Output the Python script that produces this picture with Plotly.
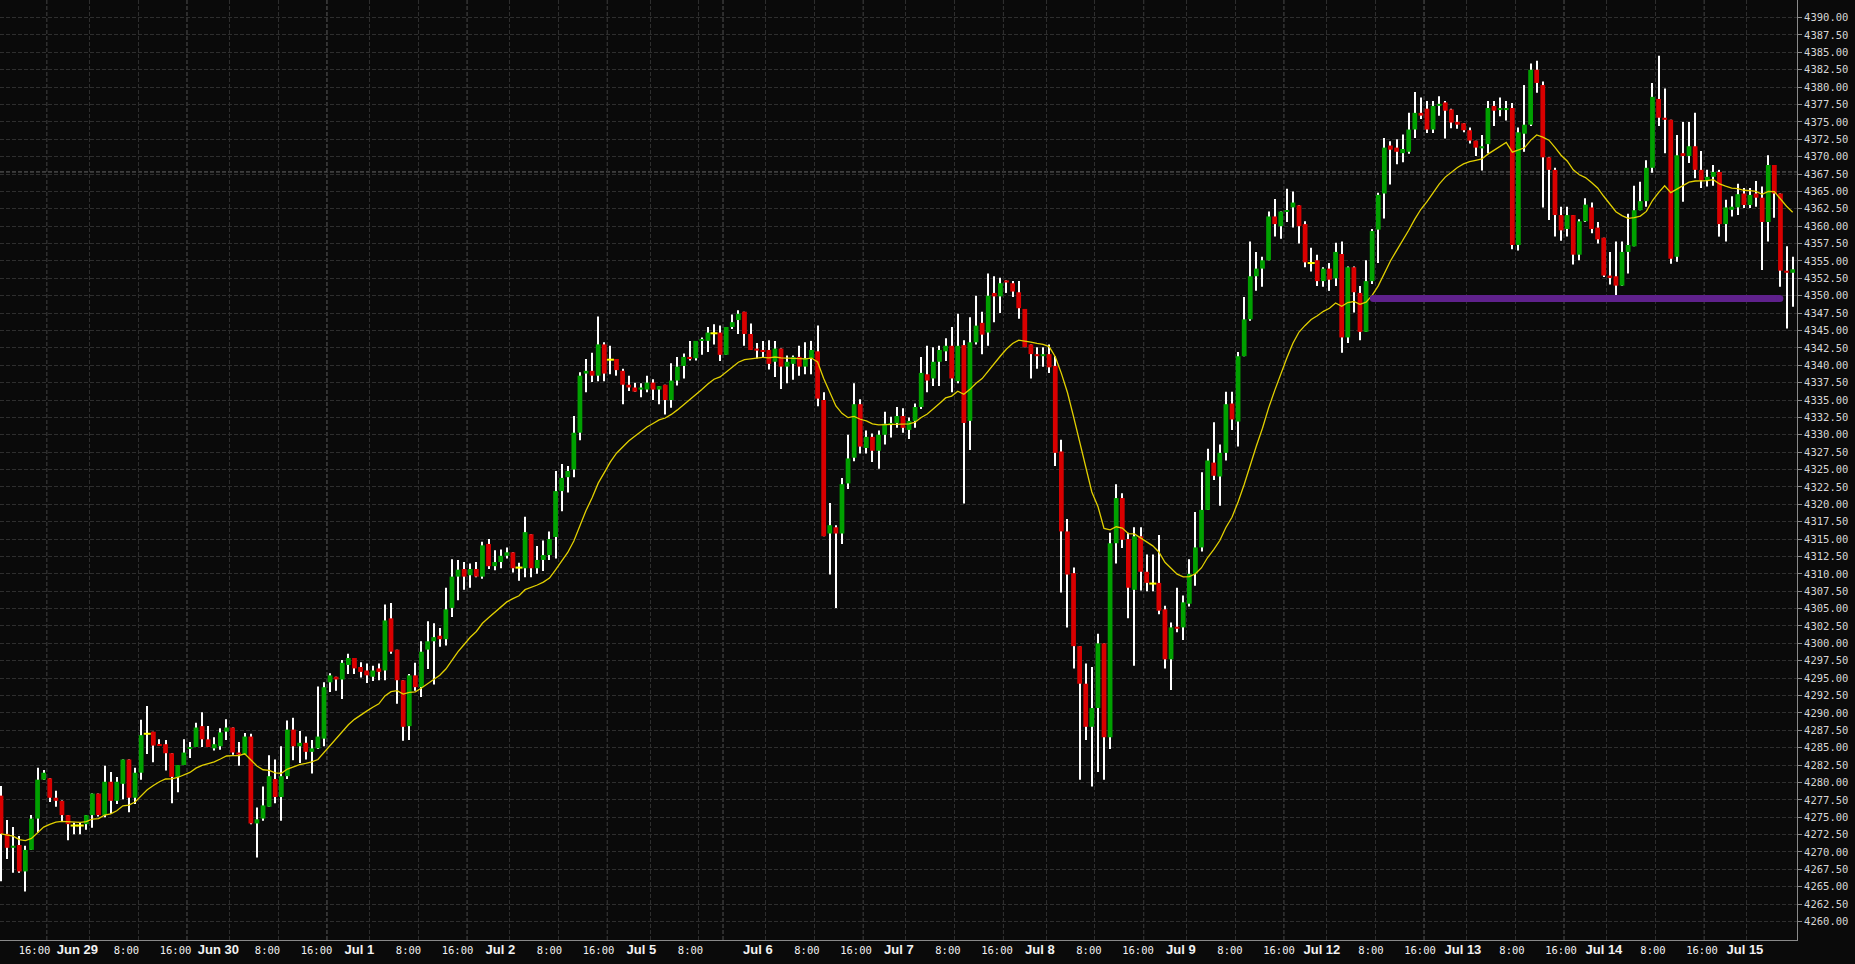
import plotly.graph_objects as go
from datetime import datetime, timedelta

# ---------------- data (hourly candles) ----------------
opens = [
 4278.1,4272.6,4270.6,4271.0,4267.2,4270.3,4274.8,4280.4,4280.6,4277.8,
 4277.35,4275.3,4273.8,4273.8,4274.0,4275.3,4278.4,4275.3,4280.1,4277.35,
 4279.8,4283.3,4277.8,4281.4,4287.0,4287.3,4285.5,4285.5,4284.2,4280.8,
 4282.5,4284.9,4285.1,4288.1,4286.2,4284.9,4285.2,4287.3,4287.9,4284.3,
 4284.0,4286.6,4274.1,4274.8,4276.5,4280.5,4277.9,4280.9,4287.6,4285.2,
 4285.7,4284.4,4284.9,4286.3,4294.4,4295.2,4294.8,4296.9,4297.9,4296.6,
 4296.1,4295.2,4296.4,4296.1,4303.6,4299.1,4294.7,4288.1,4295.4,4293.7,
 4299.1,4300.3,4301.1,4300.6,4305.1,4309.6,4310.7,4309.8,4310.7,4309.6,
 4314.3,4311.1,4311.7,4312.6,4313.1,4310.9,4310.8,4315.7,4310.8,4312.0,
 4312.7,4315.3,4321.9,4323.9,4325.0,4330.3,4338.8,4339.2,4338.5,4343.0,
 4340.8,4340.9,4339.2,4337.2,4336.8,4336.5,4336.5,4337.5,4336.5,4337.2,
 4335.0,4337.8,4339.9,4341.2,4341.0,4343.5,4343.5,4344.6,4344.7,4341.5,
 4345.5,4346.5,4347.7,4344.5,4342.4,4342.2,4342.2,4340.5,4342.4,4339.8,
 4340.2,4341.2,4339.8,4341.0,4342.0,4335.0,4315.8,4316.7,4315.8,4323.0,
 4326.7,4334.4,4328.1,4329.7,4327.7,4330.0,4331.5,4331.7,4332.7,4330.7,
 4332.0,4334.0,4338.7,4338.1,4340.5,4342.0,4342.8,4337.7,4342.9,4332.0,
 4343.3,4346.1,4344.7,4350.4,4349.9,4352.2,4351.8,4350.5,4348.1,4343.0,
 4341.6,4341.3,4341.6,4339.9,4327.6,4316.1,4310.1,4299.6,4294.2,4288.0,
 4290.7,4300.0,4286.5,4314.4,4320.9,4315.0,4307.7,4315.4,4310.3,4308.6,
 4308.7,4304.9,4297.7,4302.4,4302.3,4305.7,4310.0,4313.8,4319.2,4326.0,
 4324.0,4327.4,4334.5,4331.9,4341.3,4346.6,4352.8,4353.9,4355.1,4361.4,
 4360.0,4362.1,4362.7,4363.0,4360.3,4354.7,4355.1,4352.1,4353.9,4352.5,
 4356.0,4344.0,4354.1,4350.4,4344.8,4352.1,4359.5,4364.7,4371.6,4371.3,
 4370.5,4370.7,4373.9,4376.3,4376.9,4373.9,4377.3,4377.8,4376.8,4375.0,
 4374.8,4373.8,4372.3,4371.2,4371.8,4377.3,4376.7,4376.7,4377.0,4357.3,
 4373.3,4374.6,4382.5,4380.3,4369.9,4368.1,4361.6,4359.6,4361.6,4355.9,
 4360.7,4362.7,4359.8,4358.35,4352.9,4352.8,4351.45,4356.3,4357.1,4362.3,
 4363.6,4368.4,4378.3,4375.6,4375.3,4355.6,4370.5,4370.1,4371.5,4368.1,
 4366.6,4367.1,4367.8,4360.3,4362.35,4362.7,4364.7,4363.05,4364.7,4364.1,
 4360.6,4368.8,4364.7,4353.6,4353.3,
]
highs = [
 4279.5,4274.6,4273.6,4272.3,4270.9,4275.3,4282.1,4281.8,4280.6,4278.8,
 4277.4,4275.3,4274.2,4274.2,4275.3,4278.4,4278.4,4282.4,4281.5,4280.8,
 4283.3,4283.3,4282.1,4289.0,4291.0,4287.3,4286.2,4286.1,4284.2,4282.5,
 4286.2,4285.8,4288.6,4290.1,4288.1,4286.5,4287.8,4289.1,4287.9,4285.8,
 4287.1,4287.0,4276.4,4279.4,4283.9,4283.3,4285.2,4288.9,4289.3,4287.4,
 4286.6,4286.1,4293.8,4294.4,4295.7,4295.2,4297.6,4298.5,4297.9,4297.3,
 4297.1,4296.8,4297.1,4305.6,4305.8,4299.1,4294.7,4295.6,4297.2,4300.3,
 4303.2,4302.9,4302.2,4308.0,4312.1,4312.0,4311.7,4311.5,4311.7,4314.6,
 4315.0,4313.4,4313.5,4313.8,4313.1,4311.6,4318.2,4315.7,4314.0,4314.8,
 4316.1,4324.8,4325.8,4325.5,4332.7,4339.0,4340.9,4341.8,4347.0,4343.3,
 4342.8,4340.9,4339.5,4338.5,4337.5,4337.4,4338.5,4338.0,4337.0,4337.2,
 4340.3,4341.2,4341.7,4343.5,4343.5,4344.0,4345.5,4345.9,4345.7,4345.5,
 4347.3,4347.9,4347.7,4346.0,4343.2,4343.5,4343.6,4343.5,4342.4,4341.4,
 4341.4,4342.8,4343.3,4343.5,4345.7,4336.1,4320.2,4317.0,4323.8,4330.0,
 4337.4,4335.1,4330.6,4330.2,4330.6,4333.3,4332.6,4334.0,4333.8,4332.5,
 4334.5,4341.2,4342.8,4342.6,4342.8,4343.9,4345.5,4347.4,4343.6,4346.9,
 4350.0,4347.7,4353.2,4352.8,4352.6,4352.2,4352.1,4352.1,4348.1,4343.0,
 4342.6,4342.6,4343.0,4341.3,4329.3,4317.9,4310.9,4299.6,4297.1,4296.6,
 4301.4,4300.0,4315.9,4322.9,4321.6,4315.9,4316.7,4316.7,4312.8,4312.8,
 4315.6,4305.4,4303.0,4308.0,4306.9,4312.1,4318.9,4324.6,4328.0,4331.8,
 4328.6,4336.2,4336.2,4341.9,4349.8,4357.8,4356.3,4355.6,4362.1,4363.9,
 4362.1,4365.4,4365.0,4363.0,4360.7,4356.9,4355.9,4354.1,4354.7,4357.6,
 4357.8,4354.2,4354.2,4351.4,4355.1,4359.6,4364.8,4372.7,4372.2,4372.5,
 4373.2,4376.3,4379.3,4378.5,4378.0,4378.0,4378.7,4378.0,4376.9,4376.0,
 4374.8,4374.2,4372.3,4373.1,4378.0,4378.0,4378.5,4378.0,4377.7,4374.2,
 4380.3,4383.4,4383.8,4380.8,4369.9,4368.4,4362.8,4362.8,4361.6,4361.0,
 4364.0,4363.4,4360.6,4358.35,4356.3,4357.8,4357.8,4361.8,4365.8,4366.4,
 4369.5,4380.6,4384.5,4379.8,4375.3,4373.1,4375.0,4375.0,4376.3,4370.8,
 4368.1,4368.8,4368.1,4363.8,4364.3,4366.1,4365.5,4365.5,4366.5,4365.7,
 4370.2,4368.8,4364.7,4357.1,4355.6,
]
lows = [
 4265.8,4269.0,4267.0,4267.0,4264.3,4270.3,4272.8,4280.4,4277.2,4276.5,
 4274.3,4271.7,4272.55,4272.55,4273.2,4273.5,4275.1,4275.0,4275.5,4276.9,
 4277.6,4275.7,4276.9,4280.4,4284.1,4282.9,4285.3,4281.7,4277.0,4278.6,
 4282.5,4283.5,4285.1,4285.1,4285.1,4284.6,4284.7,4286.1,4284.0,4282.4,
 4284.0,4274.0,4269.2,4274.5,4276.5,4277.0,4274.5,4280.5,4283.2,4282.8,
 4283.3,4281.3,4284.8,4285.2,4293.0,4293.2,4292.0,4295.6,4295.6,4295.1,
 4294.3,4294.6,4294.7,4294.7,4298.5,4291.3,4286.0,4286.1,4293.2,4292.3,
 4296.3,4294.1,4299.5,4299.7,4303.8,4306.2,4307.7,4308.0,4309.5,4309.3,
 4310.7,4310.5,4310.8,4312.2,4310.2,4309.0,4309.5,4309.5,4310.0,4310.4,
 4312.0,4312.2,4319.0,4321.7,4323.9,4329.2,4336.1,4337.6,4337.7,4337.7,
 4338.7,4338.5,4334.4,4336.3,4336.2,4335.4,4336.1,4335.0,4334.4,4332.9,
 4333.9,4337.1,4338.1,4340.7,4340.7,4341.5,4341.9,4343.0,4340.6,4341.5,
 4345.2,4344.5,4342.8,4342.2,4341.0,4341.1,4339.4,4338.3,4336.6,4337.4,
 4337.9,4338.5,4338.7,4338.7,4334.1,4315.4,4309.9,4305.1,4314.3,4322.2,
 4326.2,4327.3,4327.3,4326.1,4325.1,4328.6,4329.6,4331.0,4330.3,4329.4,
 4331.0,4333.7,4336.1,4337.0,4337.0,4340.6,4336.1,4337.4,4320.1,4327.8,
 4343.0,4341.6,4342.8,4346.2,4347.5,4350.4,4349.8,4346.7,4342.6,4338.1,
 4339.5,4339.8,4338.9,4325.5,4307.3,4302.3,4296.4,4280.4,4286.1,4279.4,
 4281.5,4280.4,4284.8,4311.5,4313.7,4303.6,4296.8,4307.6,4307.5,4307.5,
 4304.2,4296.4,4293.3,4301.6,4300.5,4305.3,4308.3,4313.2,4319.2,4323.5,
 4319.8,4326.3,4330.7,4328.3,4341.3,4346.4,4350.7,4351.3,4355.1,4358.5,
 4358.2,4360.6,4359.8,4357.5,4354.1,4353.5,4351.4,4351.3,4350.7,4351.4,
 4341.8,4343.2,4347.6,4343.6,4344.8,4351.7,4354.7,4361.1,4366.0,4368.9,
 4369.2,4370.4,4372.7,4375.4,4373.4,4373.4,4375.9,4372.6,4374.1,4374.0,
 4373.5,4371.9,4370.1,4368.0,4370.5,4374.4,4375.8,4375.2,4356.7,4356.5,
 4370.7,4374.4,4379.2,4362.7,4360.9,4358.5,4357.9,4358.5,4354.5,4355.1,
 4360.6,4359.0,4357.5,4352.7,4351.6,4350.1,4351.45,4353.2,4357.1,4362.3,
 4362.8,4367.7,4374.4,4370.5,4354.6,4354.9,4363.5,4369.1,4366.9,4365.5,
 4365.7,4365.8,4358.5,4357.8,4361.4,4361.6,4362.6,4362.6,4362.8,4353.7,
 4357.8,4361.2,4351.3,4345.3,4348.4,
]
closes = [
 4272.6,4270.6,4270.9,4267.2,4270.3,4274.8,4280.4,4281.4,4277.8,4277.35,
 4275.3,4274.0,4273.8,4273.8,4275.3,4278.4,4275.3,4280.1,4277.35,4280.1,
 4283.3,4277.8,4281.4,4286.8,4287.0,4285.3,4285.3,4284.2,4280.8,4282.5,
 4284.3,4285.1,4287.9,4286.2,4285.1,4285.5,4287.2,4287.9,4284.3,4284.0,
 4286.6,4274.1,4274.7,4276.7,4280.9,4277.9,4280.9,4287.6,4285.2,4285.7,
 4284.4,4284.9,4286.6,4293.7,4295.4,4294.8,4297.2,4297.9,4296.4,4295.9,
 4295.4,4296.1,4295.9,4303.3,4298.8,4294.7,4288.0,4295.4,4293.7,4298.8,
 4300.3,4300.9,4300.6,4304.9,4309.6,4310.6,4309.6,4310.7,4309.6,4314.1,
 4311.1,4311.7,4312.6,4313.1,4310.8,4310.9,4316.0,4310.8,4312.0,4312.7,
 4315.0,4321.9,4323.8,4324.8,4330.3,4338.5,4339.2,4338.5,4343.0,4338.8,
 4340.8,4339.3,4337.2,4336.8,4336.2,4336.8,4337.5,4336.5,4337.0,4335.0,
 4337.8,4339.8,4341.2,4341.0,4343.5,4343.7,4344.7,4344.6,4341.5,4345.5,
 4346.2,4347.4,4344.5,4342.2,4342.1,4342.0,4340.2,4342.4,4339.8,4340.5,
 4341.2,4339.8,4341.0,4342.2,4335.2,4315.4,4317.0,4315.8,4322.9,4326.6,
 4334.4,4328.3,4329.7,4327.7,4330.0,4331.6,4331.7,4332.7,4331.0,4332.0,
 4334.0,4338.9,4337.8,4340.5,4342.2,4342.8,4338.1,4342.8,4331.7,4343.3,
 4345.7,4344.4,4350.0,4349.9,4351.8,4351.9,4350.6,4348.2,4342.6,4341.6,
 4341.3,4341.6,4339.7,4327.4,4316.1,4309.9,4299.6,4294.2,4288.0,4290.7,
 4300.0,4286.5,4314.4,4320.9,4314.9,4308.0,4315.4,4310.3,4308.7,4308.6,
 4304.7,4297.7,4302.3,4302.1,4305.9,4310.0,4313.8,4319.2,4326.3,4324.1,
 4327.4,4334.4,4332.2,4341.3,4346.6,4352.8,4353.9,4355.1,4361.4,4360.3,
 4362.1,4362.3,4363.4,4360.0,4354.8,4354.7,4352.1,4353.9,4352.3,4356.3,
 4344.0,4354.1,4350.5,4344.8,4352.1,4359.3,4364.5,4371.3,4371.0,4370.7,
 4371.1,4373.9,4376.3,4375.9,4373.9,4377.3,4377.6,4376.6,4374.9,4374.6,
 4373.8,4372.3,4371.3,4371.5,4377.0,4376.6,4377.0,4377.0,4357.3,4373.5,
 4374.6,4382.5,4380.6,4369.9,4368.1,4361.6,4359.4,4361.6,4355.9,4360.7,
 4363.1,4359.6,4358.1,4352.9,4352.65,4351.45,4356.3,4357.3,4362.3,4363.6,
 4368.4,4378.6,4375.6,4375.3,4355.3,4370.2,4370.1,4371.5,4368.1,4366.6,
 4367.1,4367.8,4360.3,4362.7,4362.8,4364.6,4363.05,4364.5,4364.1,4360.6,
 4368.8,4364.7,4353.6,4353.3,4353.8,
]

# trading sessions: (first candle time, number of hourly candles); 17:00 is the daily break
segments = [("2021-06-28 08:00", 9), ("2021-06-28 18:00", 92), ("2021-07-04 18:00", 19),
            ("2021-07-05 18:00", 92), ("2021-07-11 18:00", 69), ("2021-07-14 18:00", 14)]

ema_period = 20
ema_seed = 4272.6          # indicator value just before the first candle
support_level = 4349.6     # purple horizontal line
support_from, support_to = 225.2, 291.9
crosshair_level = 4367.8

# ---------------- build candle times ----------------
times = []
for start, count in segments:
    t = datetime.strptime(start, "%Y-%m-%d %H:%M")
    made = 0
    while made < count:
        if t.hour != 17:
            times.append(t)
            made += 1
        t += timedelta(hours=1)

n = len(closes)
idx = list(range(n))

# ticks
session_end = [i for i in range(n - 1) if times[i + 1] - times[i] > timedelta(hours=1)]
label_idx = [i for i in idx if times[i].hour in (0, 8, 16)]
grid_vals = sorted(set([i - 0.5 for i in label_idx] + [i - 0.5 for i in session_end]))
label_vals = [i - 0.5 for i in label_idx]
label_txt = []
for i in label_idx:
    t = times[i]
    if t.hour == 0:
        label_txt.append("<b>%s %d</b>" % (t.strftime("%b"), t.day))
    else:
        label_txt.append("<span style='font-family:DejaVu Sans Mono;font-size:10.5px;font-weight:normal'>%d:00</span>" % t.hour)

# EMA of closes
alpha = 2.0 / (ema_period + 1)
ema = []
prev = ema_seed
for c in closes:
    prev = prev + alpha * (c - prev)
    ema.append(prev)

UP, DOWN, DOJI = "#00a000", "#d80000", "#ffff00"

# bodies
bx, bbase, bh, bcol = [], [], [], []
dx, dy = [], []
for i in idx:
    o, c = opens[i], closes[i]
    if c == o:
        dx.append(i); dy.append(c)
        continue
    lo = min(o, c)
    h = max(abs(c - o), 0.15)
    bx.append(i); bbase.append(lo); bh.append(h)
    bcol.append(UP if c > o else DOWN)

fig = go.Figure()
# wicks (thin bars, drawn before the bodies)
fig.add_trace(go.Bar(x=idx, y=[highs[i] - lows[i] for i in idx], base=lows, width=0.17,
                     marker=dict(color="#ffffff", line=dict(width=0)),
                     hoverinfo="skip", showlegend=False))
fig.add_trace(go.Bar(x=bx, y=bh, base=bbase, width=0.78, marker=dict(color=bcol, line=dict(width=0)),
                     hoverinfo="skip", showlegend=False))
fig.add_trace(go.Scatter(x=dx, y=dy, mode="markers",
                         marker=dict(symbol="line-ew", size=5, line=dict(color=DOJI, width=2)),
                         hoverinfo="skip", showlegend=False))
fig.add_trace(go.Scatter(x=idx, y=ema, mode="lines", line=dict(color="#e2d000", width=1.3),
                         hoverinfo="skip", showlegend=False))
fig.add_trace(go.Scatter(x=[support_from, support_to], y=[support_level, support_level],
                         mode="lines+markers", line=dict(color="#5f218c", width=7),
                         marker=dict(color="#5f218c", size=7, line=dict(width=0)),
                         hoverinfo="skip", showlegend=False))
# invisible trace that carries the label axis
fig.add_trace(go.Scatter(x=[label_vals[0]], y=[None], xaxis="x2", mode="markers",
                         marker=dict(opacity=0), hoverinfo="skip", showlegend=False))

shapes = []
for i in session_end:
    shapes.append(dict(type="line", xref="x", yref="y domain", x0=i - 0.5, x1=i - 0.5, y0=0, y1=1,
                       line=dict(color="#666666", width=1, dash="4px,2px"), layer="below"))
shapes.append(dict(type="line", xref="x domain", yref="y", x0=0, x1=1, y0=crosshair_level, y1=crosshair_level,
                   line=dict(color="#666666", width=1, dash="4px,2px"), layer="below"))

W, H = 1855, 964
plot_w = 1797
pitch = 6.094
x_lo = -1.0 / pitch
x_hi = (plot_w - 1.0) / pitch
# label axis is very slightly stretched relative to the grid, as in the original
lab_pitch = pitch * 1.006
lab_off = 1.006 * 1.0 - 12.5
x2_lo = -lab_off / lab_pitch
x2_hi = (plot_w - lab_off) / lab_pitch

ytick = [4260 + 2.5 * k for k in range(53)]

fig.update_layout(
    width=W, height=H,
    margin=dict(l=0, r=W - plot_w, t=0, b=24, autoexpand=False),
    paper_bgcolor="#0a0a0a", plot_bgcolor="#0a0a0a",
    showlegend=False, hovermode=False, barmode="overlay",
    shapes=shapes,
    xaxis=dict(range=[x_lo, x_hi], tickvals=grid_vals, showticklabels=False, ticks="",
               showgrid=True, gridcolor="#2e2e2e", griddash="4px,2px", gridwidth=1,
               zeroline=False, showline=True, linecolor="#8a8a8a", linewidth=1),
    xaxis2=dict(range=[x2_lo, x2_hi], overlaying="x", anchor="y", side="bottom",
                tickvals=label_vals, ticktext=label_txt, ticks="", showgrid=False,
                zeroline=False, showline=False,
                tickfont=dict(family="Liberation Sans", size=13, color="#f2f2f2")),
    yaxis=dict(range=[4257.34, 4392.53], side="right", tickvals=ytick,
               ticktext=["%.2f" % v for v in ytick],
               ticks="outside", ticklen=4, tickcolor="#8a8a8a",
               showgrid=True, gridcolor="#2e2e2e", griddash="4px,2px", gridwidth=1,
               zeroline=False, showline=True, linecolor="#8a8a8a", linewidth=1,
               tickfont=dict(family="DejaVu Sans Mono", size=10.5, color="#d6d6d6")),
)

fig.write_html("out.html", config={"displayModeBar": False},
               post_script="document.body.style.margin='0px';document.body.style.overflow='hidden';")
